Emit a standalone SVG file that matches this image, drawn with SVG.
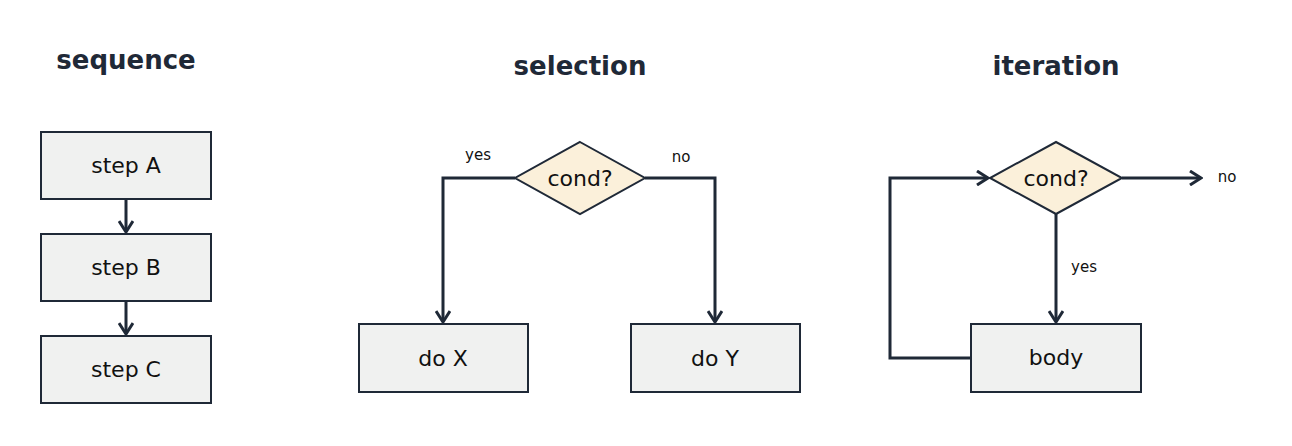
<svg xmlns="http://www.w3.org/2000/svg" width="1292" height="446" viewBox="0 0 1292 446">
<style>
.box{fill:#f0f1f0;stroke:#1f2937;stroke-width:2}
.dia{fill:#fbf0da;stroke:#1f2937;stroke-width:2}
.t{font-family:"DejaVu Sans","Noto Sans",sans-serif;font-size:22px;fill:#111;text-anchor:middle;dominant-baseline:central}
.h{font-family:"DejaVu Sans","Noto Sans",sans-serif;font-size:26px;font-weight:bold;fill:#1f2937;text-anchor:middle;dominant-baseline:central}
.l{font-family:"DejaVu Sans","Noto Sans",sans-serif;font-size:15px;fill:#111;text-anchor:middle;dominant-baseline:central}
.c{fill:none;stroke:#1f2937;stroke-width:3}
</style>
<defs><marker id="a" viewBox="0 0 10 10" refX="9" refY="5" markerWidth="6" markerHeight="6" markerUnits="userSpaceOnUse" orient="auto" style="overflow:visible"><path d="M0,0 L10,5 L0,10" fill="none" stroke="#1f2937" stroke-width="3" transform="scale(1.6) translate(-3.5,-1.9)"/></marker>
<marker id="b" viewBox="-12 -8 14 16" refX="0" refY="0" markerWidth="14" markerHeight="16" markerUnits="userSpaceOnUse" orient="auto"><path d="M-11,-7 L0,0 L-11,7" fill="none" stroke="#1f2937" stroke-width="3"/></marker></defs>
<text class="h" x="126" y="60">sequence</text>
<text class="h" x="580" y="66">selection</text>
<text class="h" x="1056" y="66">iteration</text>
<g id="connectors">
<path class="c" d="M126,199 V232" marker-end="url(#b)"/>
<path class="c" d="M126,301 V334" marker-end="url(#b)"/>
<path class="c" d="M515,178 H443 V322" marker-end="url(#b)"/>
<path class="c" d="M645,178 H715 V322" marker-end="url(#b)"/>
<path class="c" d="M1122,178 H1201" marker-end="url(#b)"/>
<path class="c" d="M1056,214 V322" marker-end="url(#b)"/>
<path class="c" d="M971,358 H890 V178 H988" marker-end="url(#b)"/>
<text class="l" x="478" y="155">yes</text>
<text class="l" x="681" y="157">no</text>
<text class="l" x="1227" y="177">no</text>
<text class="l" x="1084" y="267">yes</text>
</g>
<g id="stepA"><rect class="box" x="41" y="132" width="170" height="67"/><text class="t" x="126" y="165">step A</text></g>
<g id="stepB"><rect class="box" x="41" y="234" width="170" height="67"/><text class="t" x="126" y="267">step B</text></g>
<g id="stepC"><rect class="box" x="41" y="336" width="170" height="67"/><text class="t" x="126" y="369">step C</text></g>
<g id="cond1"><polygon class="dia" points="580,142 645,178 580,214 515,178"/><text class="t" x="580" y="178">cond?</text></g>
<g id="doX"><rect class="box" x="359" y="324" width="169" height="68"/><text class="t" x="443" y="358">do X</text></g>
<g id="doY"><rect class="box" x="631" y="324" width="169" height="68"/><text class="t" x="715" y="358">do Y</text></g>
<g id="cond2"><polygon class="dia" points="1056,142 1122,178 1056,214 990,178"/><text class="t" x="1056" y="178">cond?</text></g>
<g id="body"><rect class="box" x="971" y="324" width="170" height="68"/><text class="t" x="1056" y="357">body</text></g>
</svg>
